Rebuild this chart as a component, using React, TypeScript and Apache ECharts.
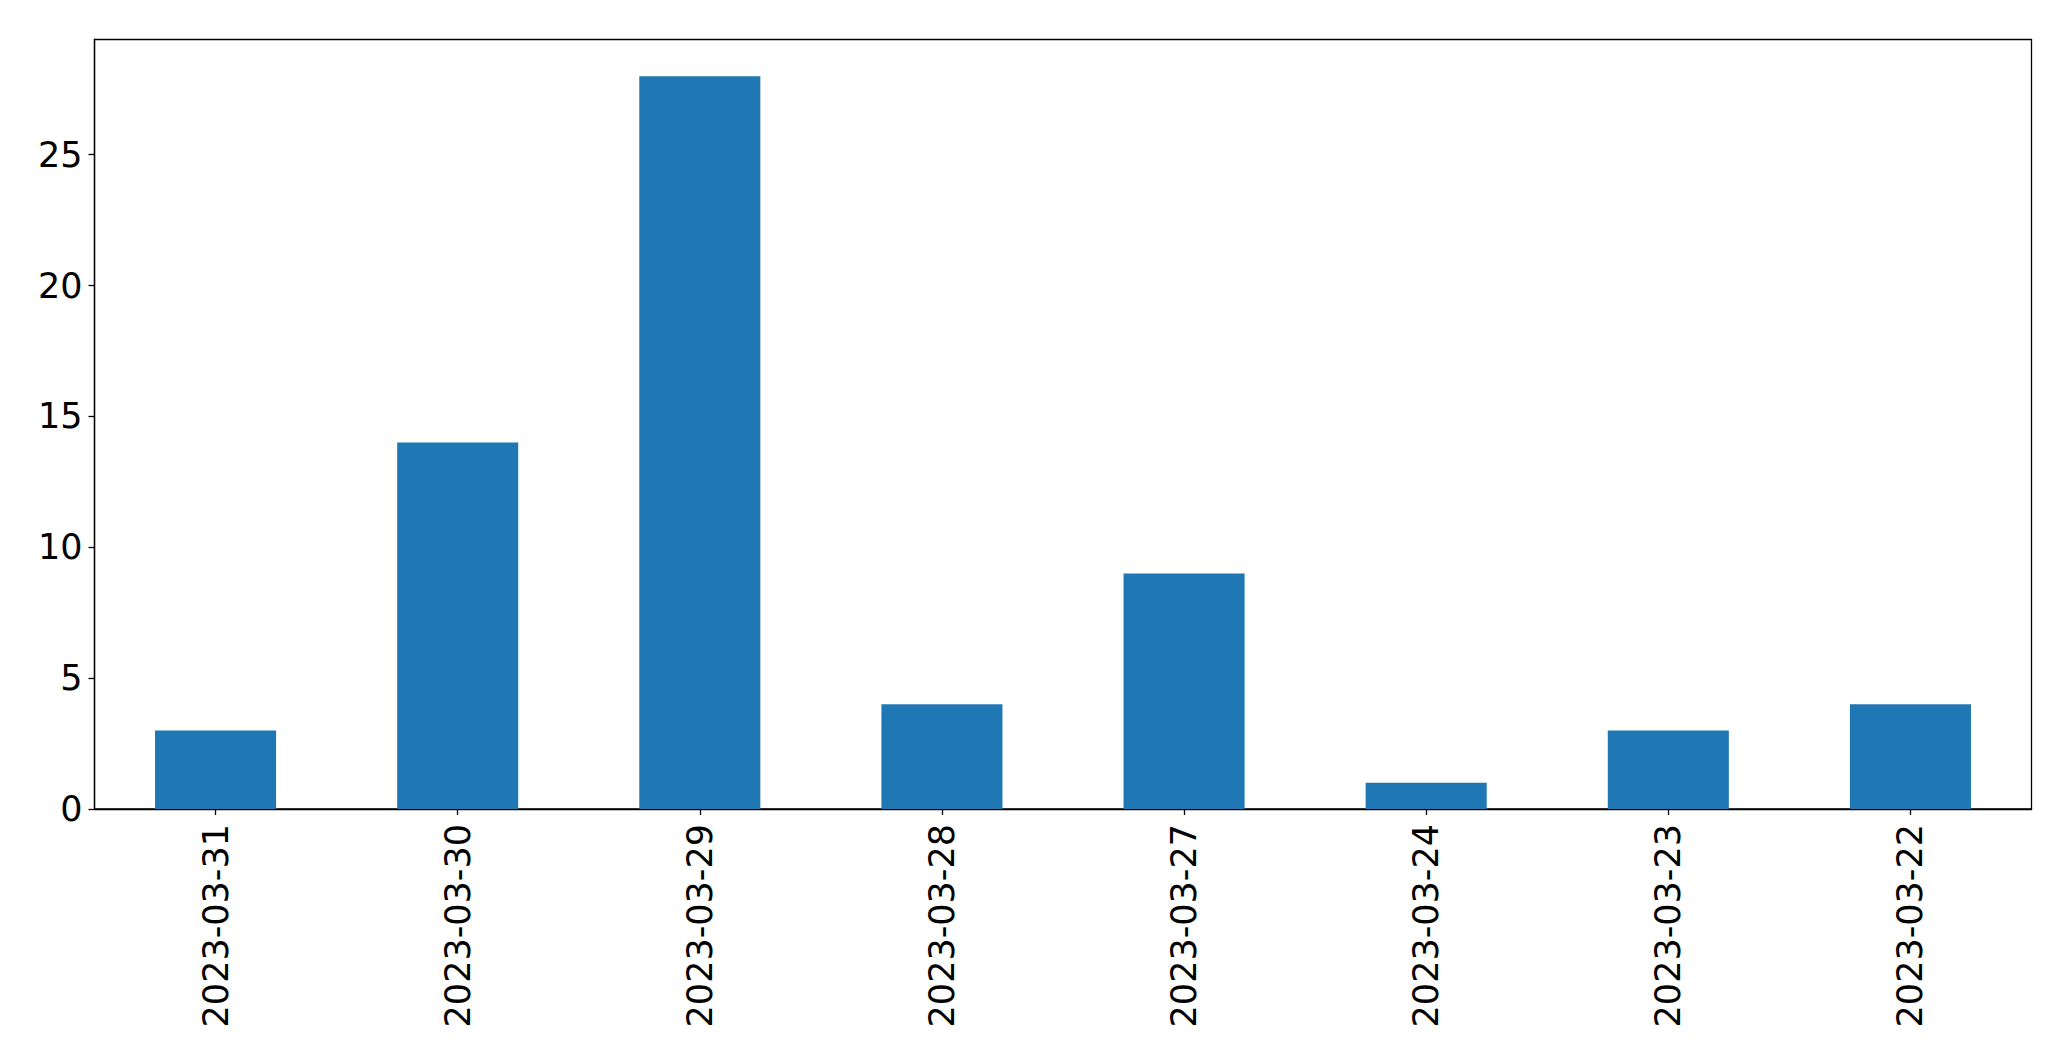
import React, { useEffect, useRef } from "react";
import * as echarts from "echarts";

const categories = [
  "2023-03-31",
  "2023-03-30",
  "2023-03-29",
  "2023-03-28",
  "2023-03-27",
  "2023-03-24",
  "2023-03-23",
  "2023-03-22",
];
const counts = [3, 14, 28, 4, 9, 1, 3, 4];
const yMax = 29.4;
const yInterval = 5;

export default function App() {
  const ref = useRef<HTMLDivElement>(null);
  useEffect(() => {
    if (!ref.current) return;
    const chart = echarts.init(ref.current, null, { renderer: "svg" });
    const font = "DejaVu Sans";
    chart.setOption({
      animation: false,
      backgroundColor: "#ffffff",
      grid: {
        left: 94.5,
        top: 39.5,
        right: 39.5,
        bottom: 252,
        show: true,
        borderColor: "#000000",
        borderWidth: 1.3,
        backgroundColor: "transparent",
      },
      xAxis: {
        type: "category",
        data: categories,
        axisLine: { show: true, lineStyle: { color: "#000", width: 1.3 } },
        axisTick: { show: true, alignWithLabel: true, length: 6, lineStyle: { color: "#000", width: 1.3 } },
        axisLabel: {
          rotate: 90,
          margin: 15,
          fontSize: 35,
          fontFamily: font,
          color: "#000",
          interval: 0,
        },
        splitLine: { show: false },
      },
      yAxis: {
        type: "value",
        min: 0,
        max: yMax,
        interval: yInterval,
        axisLine: { show: true, lineStyle: { color: "#000", width: 1.3 } },
        axisTick: { show: true, length: 6, lineStyle: { color: "#000", width: 1.3 } },
        axisLabel: {
          fontSize: 35,
          fontFamily: font,
          color: "#000",
          margin: 12,
          showMaxLabel: false,
        },
        splitLine: { show: false },
      },
      series: [
        {
          type: "bar",
          data: counts,
          barWidth: "50%",
          itemStyle: { color: "#1f77b4" },
        },
      ],
    });
    return () => chart.dispose();
  }, []);
  return (
    <div
      ref={ref}
      style={{ position: "fixed", left: 0, top: 0, width: 2071, height: 1061 }}
    />
  );
}
